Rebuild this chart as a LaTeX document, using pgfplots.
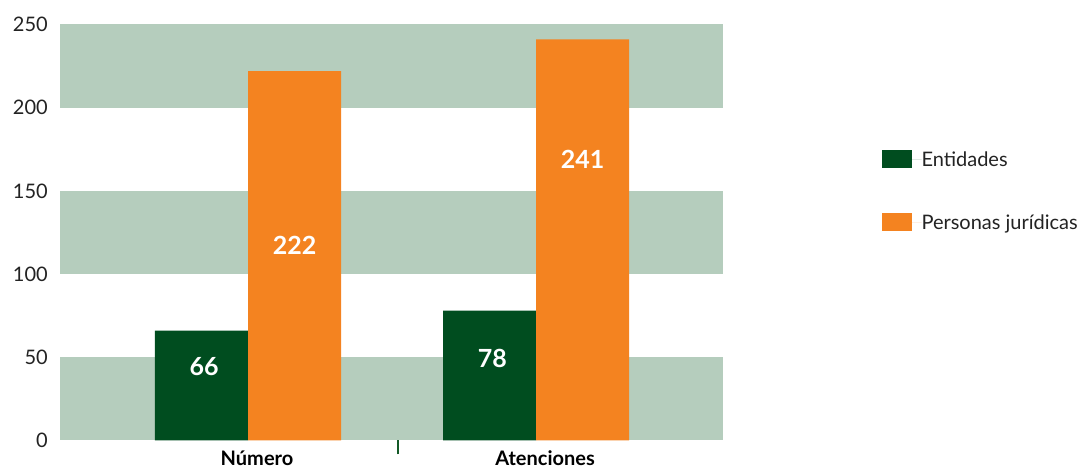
\documentclass[border=0pt]{standalone}
\usepackage{pgfplots}
\pgfplotsset{compat=1.18}
\usepackage{fontspec}
\setmainfont{Lato}

\definecolor{band}{RGB}{181,205,189}
\definecolor{entgreen}{RGB}{0,77,31}
\definecolor{perorange}{RGB}{244,131,32}
\definecolor{tickgreen}{RGB}{20,90,40}
\definecolor{labeltext}{RGB}{35,35,35}

\begin{document}
\begin{tikzpicture}
\useasboundingbox (0,0) rectangle (1085pt,468pt);
\begin{axis}[
  at={(59.5pt,27.5pt)}, anchor=south west,
  scale only axis, width=663.5pt, height=416pt,
  xmin=-0.6545, xmax=1.649, ymin=0, ymax=250,
  axis line style={draw=none},
  major tick length=0pt,
  tick pos=left,
  ytick={0,50,...,250},
  xtick={0,1},
  xticklabels={Número,Atenciones},
  /pgf/number format/assume math mode=true,
  yticklabel style={font=\fontsize{20}{24}\selectfont, text=labeltext,
                    anchor=east, inner sep=0pt, xshift=-11.5pt},
  xticklabel style={font=\fontsize{20}{24}\selectfont\bfseries, text=black,
                    anchor=base, inner sep=0pt, yshift=-25pt, xshift=9pt},
  extra x ticks={0.52},
  extra x tick labels={},
  extra x tick style={major tick length=14pt, tick align=outside,
                      tick style={draw=tickgreen, line width=2.5pt}},
  legend style={at={(rel axis cs:1,1)}, anchor=north west,
                xshift=159pt, yshift=-125.5pt,
                draw=none, fill=none, inner sep=0pt, outer sep=0pt,
                row sep=44.5pt,
                font=\fontsize{20}{24}\selectfont, text=labeltext,
                nodes={inner sep=0pt}},
  legend cell align=left,
]
% alternating horizontal bands
\fill[band] (axis cs:-0.6545,0)   rectangle (axis cs:1.649,50);
\fill[band] (axis cs:-0.6545,100) rectangle (axis cs:1.649,150);
\fill[band] (axis cs:-0.6545,200) rectangle (axis cs:1.649,250);

\addplot[ybar, bar width=0.323, bar shift=-0.1615, fill=entgreen, draw=none,
  legend image code/.code={\fill[entgreen] (0pt,-8pt) rectangle (30pt,10pt);
                           \path (0pt,0pt) -- (39.5pt,0pt);}]
  coordinates {(0,66) (1,78)};
\addlegendentry{Entidades}

\addplot[ybar, bar width=0.323, bar shift=0.1615, fill=perorange, draw=none,
  legend image code/.code={\fill[perorange] (0pt,-8pt) rectangle (30pt,10pt);
                           \path (0pt,0pt) -- (39.5pt,0pt);}]
  coordinates {(0,222) (1,241)};
\addlegendentry{Personas jurídicas}

% value labels inside the bars
\begin{scope}[every node/.style={font=\fontsize{25}{30}\selectfont\bfseries, text=white}]
\node at (axis cs:-0.1525,44.6) {66};
\node at (axis cs:0.1615,117.5) {222};
\node at (axis cs:0.8485,49.4) {78};
\node at (axis cs:1.1615,169) {241};
\end{scope}
\end{axis}
\end{tikzpicture}
\end{document}
